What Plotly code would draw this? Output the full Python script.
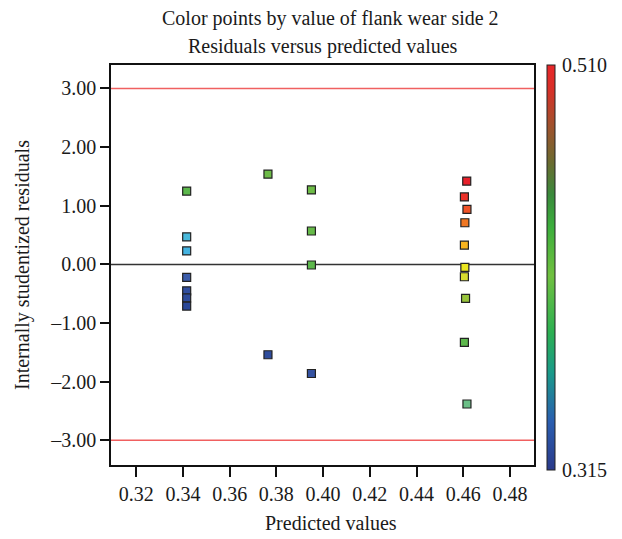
import plotly.graph_objects as go

# ---- data ----
predicted = [0.3416, 0.3416, 0.3416, 0.3416, 0.3416, 0.3416, 0.3416,
             0.3764, 0.3764,
             0.3950, 0.3950, 0.3950, 0.3950,
             0.4615, 0.4605, 0.4616, 0.4607, 0.4605, 0.4607, 0.4605, 0.4610, 0.4605, 0.4616]
residuals = [1.25, 0.47, 0.23, -0.22, -0.45, -0.57, -0.71,
             1.54, -1.54,
             1.27, 0.57, -0.01, -1.86,
             1.42, 1.15, 0.94, 0.71, 0.33, -0.05, -0.21, -0.58, -1.33, -2.38]
flank_wear = [0.393, 0.356, 0.353, 0.335, 0.322, 0.319, 0.315,
              0.405, 0.320,
              0.406, 0.400, 0.394, 0.326,
              0.510, 0.506, 0.498, 0.487, 0.471, 0.459, 0.452, 0.436, 0.394, 0.375]
limit_lines = [3.0, -3.0]
zero_line = [0.0]
x_ticks = [0.32, 0.34, 0.36, 0.38, 0.40, 0.42, 0.44, 0.46, 0.48]
y_ticks = [-3, -2, -1, 0, 1, 2, 3]
y_tick_labels = ["\u20133.00", "\u20132.00", "\u20131.00", "0.00", "1.00", "2.00", "3.00"]
cb_min, cb_max = 0.315, 0.510

FONT = "Liberation Serif"
FS = 20
INK = "#1a1a1a"

point_scale = [
    [0.00, "#2a4798"], [0.10, "#3b5aa8"], [0.20, "#45b8e4"], [0.30, "#6cc08c"],
    [0.40, "#5cb84c"], [0.62, "#98c43c"], [0.70, "#d8dc30"], [0.74, "#ece620"],
    [0.80, "#f8b41e"], [0.88, "#f07822"], [0.94, "#f05228"], [1.00, "#e8202a"],
]
bar_scale = [
    [0.00, "#2a3a8a"], [0.12, "#2a5eb0"], [0.24, "#1a9a8a"], [0.34, "#2cb052"],
    [0.48, "#70c040"], [0.60, "#3cae3c"], [0.68, "#3a8a3c"], [0.76, "#6b6b30"],
    [0.85, "#a0522d"], [0.94, "#d83028"], [1.00, "#e8262a"],
]

fig = go.Figure()

fig.add_trace(go.Scatter(
    x=predicted, y=residuals, mode="markers",
    marker=dict(symbol="square", size=8, color=flank_wear, colorscale=point_scale,
                cmin=cb_min, cmax=cb_max, showscale=False,
                line=dict(color="#222222", width=1.2)),
    showlegend=False, hoverinfo="x+y",
))

# colorbar-only trace
fig.add_trace(go.Scatter(
    x=[None], y=[None], mode="markers",
    marker=dict(color=[cb_min], colorscale=bar_scale, cmin=cb_min, cmax=cb_max,
                showscale=True,
                colorbar=dict(x=1.0315, xanchor="left", y=1.0, yanchor="top",
                              lenmode="pixels", len=405, thickness=8,
                              thicknessmode="pixels", xpad=0, ypad=0,
                              outlinewidth=1, outlinecolor="#222222",
                              tickvals=[cb_min, cb_max], ticktext=["0.315", "0.510"],
                              ticks="outside", ticklen=3, tickcolor="rgba(0,0,0,0)",
                              tickfont=dict(family=FONT, size=FS, color=INK))),
    showlegend=False, hoverinfo="skip",
))

shapes = []
for v in limit_lines:
    shapes.append(dict(type="line", xref="paper", x0=0, x1=1, yref="y", y0=v, y1=v,
                       line=dict(color="#f06060", width=1.5), layer="below"))
for v in zero_line:
    shapes.append(dict(type="line", xref="paper", x0=0, x1=1, yref="y", y0=v, y1=v,
                       line=dict(color="#333333", width=1.5), layer="below"))

annotations = [
    dict(text="Color points by value of flank wear side 2", xref="paper", yref="paper",
         x=0.52, y=1.0, yshift=47, xanchor="center", yanchor="middle", showarrow=False,
         font=dict(family=FONT, size=FS, color=INK)),
    dict(text="Residuals versus predicted values", xref="paper", yref="paper",
         x=0.5015, y=1.0, yshift=19, xanchor="center", yanchor="middle", showarrow=False,
         font=dict(family=FONT, size=FS, color=INK)),
    dict(text="Predicted values", xref="paper", yref="paper",
         x=0.52, y=0, yshift=-58, xanchor="center", yanchor="middle", showarrow=False,
         font=dict(family=FONT, size=FS, color=INK)),
    dict(text="Internally studentized residuals", xref="paper", yref="paper",
         x=0, xshift=-89, y=0.5, xanchor="center", yanchor="middle", textangle=-90,
         showarrow=False, font=dict(family=FONT, size=FS, color=INK)),
]

fig.update_layout(
    width=622, height=539,
    margin=dict(l=111, r=88, t=65, b=74, pad=0),
    paper_bgcolor="white", plot_bgcolor="white",
    font=dict(family=FONT, size=FS, color=INK),
    shapes=shapes, annotations=annotations,
    xaxis=dict(range=[0.3092, 0.4903], tickvals=x_ticks, tickformat=".2f",
               showgrid=False, zeroline=False, showline=True, linecolor="#111111",
               linewidth=1.5, mirror=True, ticks="outside", ticklen=10, tickwidth=1.5,
               tickcolor="#111111", tickfont=dict(family=FONT, size=FS, color=INK)),
    yaxis=dict(range=[-3.42, 3.40], tickvals=y_ticks, ticktext=y_tick_labels,
               showgrid=False, zeroline=False, showline=True, linecolor="#111111",
               linewidth=1.5, mirror=True, ticks="outside", ticklen=9, tickwidth=1.5,
               tickcolor="#111111", tickfont=dict(family=FONT, size=FS, color=INK)),
)

fig.write_html("out.html")
